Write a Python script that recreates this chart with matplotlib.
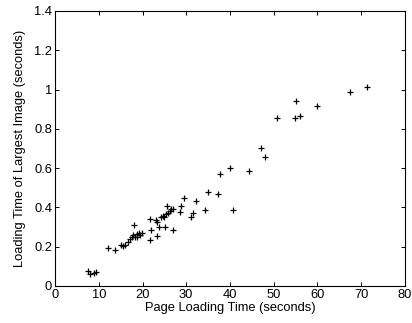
import matplotlib
matplotlib.use("Agg")
import matplotlib.pyplot as plt

page_time = [7.5, 8.0, 9.0, 9.4, 12.1, 13.6, 15.0, 15.5, 16.1, 16.6, 17.1, 17.5,
             17.9, 18.1, 18.3, 18.7, 18.8, 19.3, 19.4, 19.8, 21.6, 21.6, 21.9,
             23.1, 23.4, 23.4, 23.8, 24.2, 24.6, 24.9, 25.1, 25.4, 25.7, 25.9,
             26.3, 26.6, 26.9, 27.0, 28.6, 28.9, 29.5, 31.0, 31.5, 32.2, 34.3,
             35.0, 37.3, 37.8, 40.0, 40.8, 44.4, 47.0, 48.0, 50.7, 55.0, 54.9,
             56.0, 60.0, 67.4, 71.4]
image_time = [0.078, 0.061, 0.064, 0.07, 0.195, 0.182, 0.209, 0.202, 0.209, 0.224,
              0.238, 0.249, 0.258, 0.311, 0.248, 0.263, 0.251, 0.268, 0.258, 0.272,
              0.339, 0.234, 0.285, 0.336, 0.326, 0.255, 0.299, 0.35, 0.355, 0.35,
              0.302, 0.365, 0.409, 0.37, 0.382, 0.39, 0.285, 0.39, 0.378, 0.409,
              0.446, 0.35, 0.37, 0.431, 0.387, 0.477, 0.47, 0.568, 0.599, 0.387,
              0.585, 0.703, 0.658, 0.855, 0.94, 0.855, 0.867, 0.916, 0.986, 1.015]

plt.rcParams["font.family"] = ["Liberation Sans", "DejaVu Sans"]
plt.rcParams["font.size"] = 9.3

fig = plt.figure(figsize=(4.12, 3.23), dpi=100)
ax = fig.add_axes([0.1335, 0.1146, 0.8495, 0.8514])
ax.plot(page_time, image_time, "k+", markersize=5, markeredgewidth=0.9)
ax.set_xlim(0, 80)
ax.set_ylim(0, 1.4)
ax.set_xticks(range(0, 81, 10))
ax.set_yticks([0, 0.2, 0.4, 0.6, 0.8, 1, 1.2, 1.4])
ax.set_yticklabels(["0", "0.2", "0.4", "0.6", "0.8", "1", "1.2", "1.4"])
ax.tick_params(direction="in", top=True, right=True, length=3, width=0.7, pad=2)
for s in ax.spines.values():
    s.set_linewidth(0.8)
ax.set_xlabel("Page Loading Time (seconds)", labelpad=1)
ax.set_ylabel("Loading Time of Largest Image (seconds)", labelpad=6)
fig.savefig("out.png", dpi=100)
